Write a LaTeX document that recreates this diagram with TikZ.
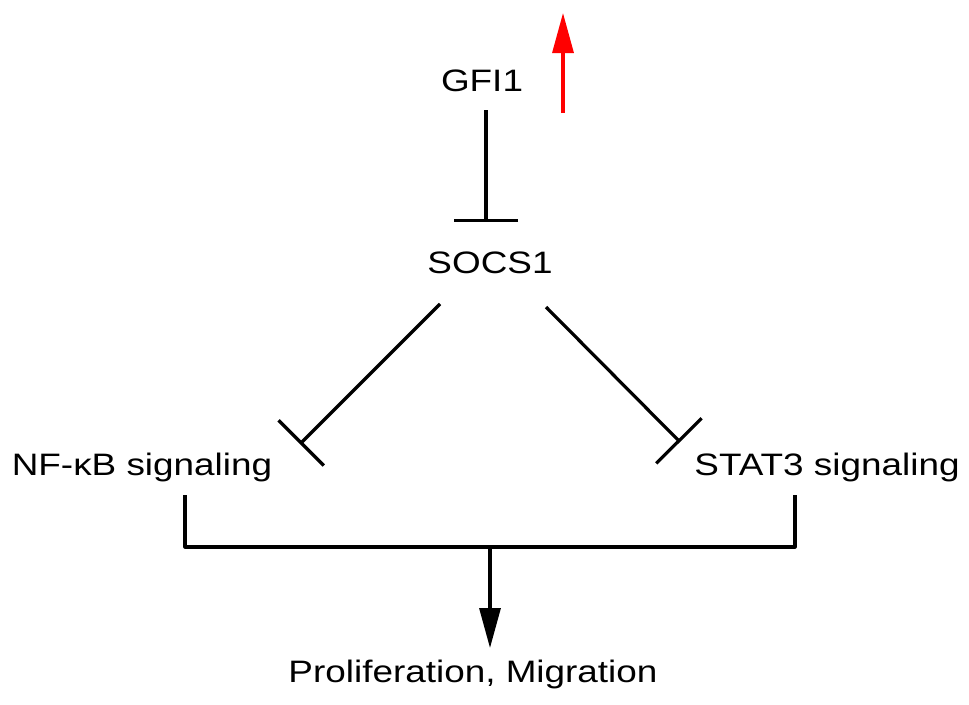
\documentclass[tikz,border=0pt]{standalone}
\usepackage{fontspec}
\setmainfont[FakeStretch=1.19]{Liberation Sans}
\usetikzlibrary{arrows.meta}
\begin{document}
\begin{tikzpicture}[x=1pt,y=-1pt,
  lbl/.style={inner sep=0pt,anchor=base,font=\fontsize{31}{36}\selectfont},
  conn/.style={line width=3.2pt,black},
  inh/.style={conn,-{Bar[width=64pt,line width=3.2pt]}},
  act/.style={conn,-{Triangle[width=21pt,length=40pt]}},
  up/.style={line width=3.2pt,red,-{Triangle[width=21pt,length=40pt]}}]
\useasboundingbox (0,0) rectangle (969,704);
\fill[white] (0,0) rectangle (969,704);
\node[lbl] (gfi) at (482,91) {GFI1};
\node[lbl] (socs) at (490,273) {SOCS1};
\node[lbl] (nfkb) at (142,475) {NF-κB signaling};
\node[lbl] (stat) at (827,475) {STAT3 signaling};
\node[lbl] (prol) at (473,682) {Proliferation, Migration};
% named connector ends
\coordinate (redtail) at (563,113);
\coordinate (redtip) at (563,13);
\coordinate (g1) at (486,110);
\coordinate (g2) at (486,222);
\coordinate (l1) at (440,304);
\coordinate (l2) at (300,444);
\coordinate (r1) at (546,307);
\coordinate (r2) at (680,442);
\coordinate (nb) at (185,495);
\coordinate (sb) at (795,495);
\coordinate (jn) at (490,547);
\coordinate (ptip) at (490,648);
\draw[up] (redtail) -- (redtip);
\draw[inh] (g1) -- (g2);
\draw[inh] (l1) -- (l2);
\draw[inh] (r1) -- (r2);
\draw[conn,line join=round] (nb) |- (jn) -| (sb);
\draw[act] (jn) -- (ptip);
\end{tikzpicture}
\end{document}
